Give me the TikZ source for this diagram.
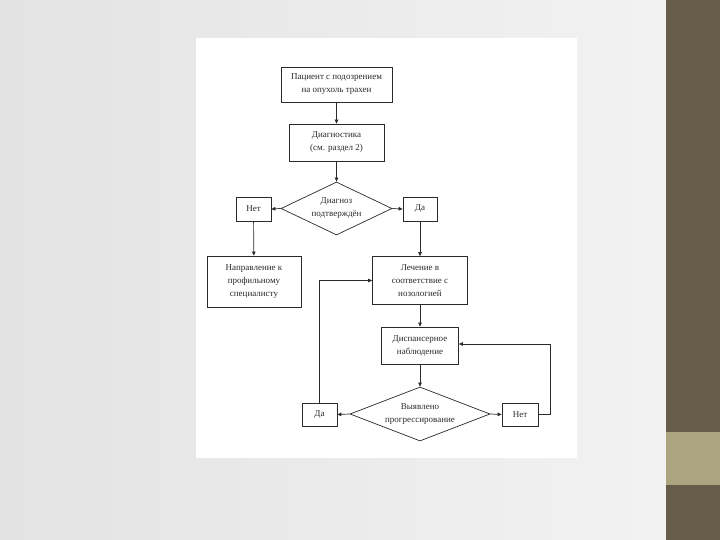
\documentclass[tikz,border=0pt]{standalone}
\usepackage{fontspec}
\setmainfont{Liberation Serif}
\usetikzlibrary{shapes.geometric,arrows.meta}
\definecolor{band}{HTML}{655D4A}
\definecolor{khaki}{HTML}{ABA67F}
\definecolor{ink}{HTML}{2A2A2A}
\tikzset{
  txt/.style={align=center, font=\fontsize{9}{13}\selectfont, text=ink},
  box/.style={draw=ink, line width=0.7pt, fill=white, inner sep=1pt, txt},
  dia/.style={draw=ink, line width=0.7pt, fill=white, diamond, inner sep=0pt},
  conn/.style={draw=ink, line width=0.7pt, -{Triangle[length=4pt,width=3.5pt]}}
}
\begin{document}
\begin{tikzpicture}[x=1pt,y=-1pt]
\useasboundingbox (0,0) rectangle (720,540);
% background
\shade[left color=black!11, right color=black!5] (0,0) rectangle (666,540);
\fill[white] (196,38) rectangle (577,458);
\fill[band] (666,0) rectangle (720,540);
\fill[khaki] (666,432) rectangle (720,485);

% nodes
\node[box, minimum width=111, minimum height=35] (b1) at (336.5,84.5) {Пациент с подозрением\\на опухоль трахеи};
\node[box, minimum width=95, minimum height=37] (b2) at (336.5,142.5) {Диагностика\\(см. раздел 2)};
\node[dia, minimum width=111, minimum height=53,
  label={[txt]center:Диагноз\\подтверждён}] (d1) at (336.5,208.5) {};
\node[box, minimum width=35, minimum height=24] (n1) at (253.5,209) {Нет};
\node[box, minimum width=34, minimum height=24] (y1) at (420,209) {Да};
\node[box, minimum width=94, minimum height=51] (b3) at (254,281.5) {Направление к\\профильному\\специалисту};
\node[box, minimum width=95, minimum height=48] (b4) at (420,280.5) {Лечение в\\соответствие с\\нозологией};
\node[box, minimum width=77, minimum height=37] (b5) at (420,345.5) {Диспансерное\\наблюдение};
\node[dia, minimum width=140, minimum height=54,
  label={[txt]center:Выявлено\\прогрессирование}] (d2) at (420,414) {};
\node[box, minimum width=35, minimum height=23] (y2) at (319.5,414.5) {Да};
\node[box, minimum width=36, minimum height=23] (n2) at (520,414.5) {Нет};

% connectors
\draw[conn] (b1) -- (b2);
\draw[conn] (b2) -- (d1);
\draw[conn] (d1.west) -- (n1.east);
\draw[conn] (d1.east) -- (y1.west);
\draw[conn] (n1) -- (b3);
\draw[conn] (y1) -- (b4);
\draw[conn] (b4) -- (b5);
\draw[conn] (b5) -- (d2);
\draw[conn] (d2.west) -- (y2.east);
\draw[conn] (d2.east) -- (n2.west);
\draw[conn] (y2.north) |- (b4.west);
\coordinate (r) at ([xshift=12pt]n2.east);
\draw[conn] (n2.east) -- (r) |- ([yshift=1.5pt]b5.east);
\end{tikzpicture}
\end{document}
